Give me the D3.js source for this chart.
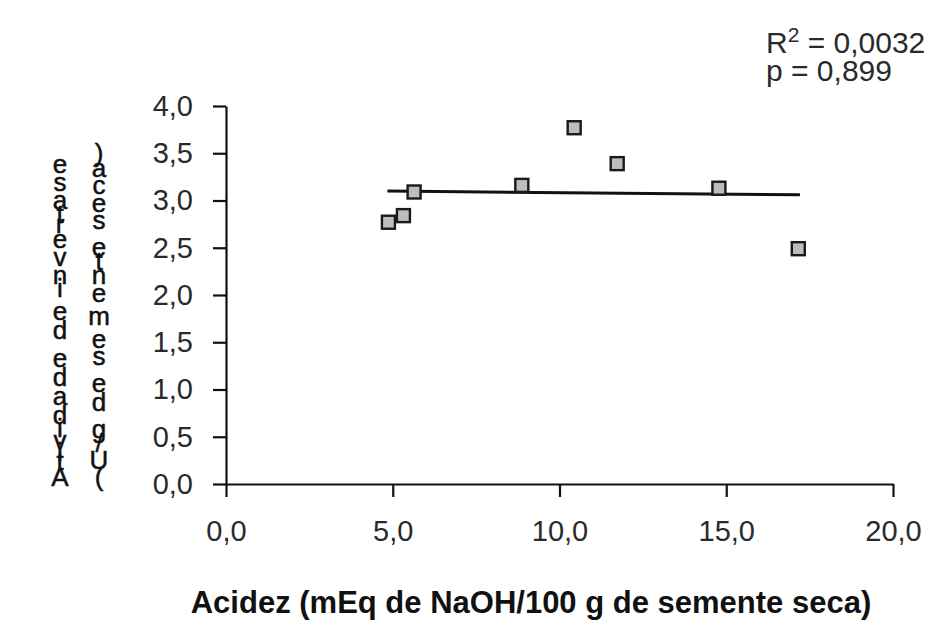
<!DOCTYPE html>
<html>
<head>
<meta charset="utf-8">
<script src="https://cdn.jsdelivr.net/npm/d3@7"></script>
<style>
  body { margin: 0; background: #fff; }
  text { font-family: "Liberation Sans", Arial, sans-serif; }
</style>
</head>
<body>
<svg id="chart" width="940" height="635"></svg>
<script>
// Acidity of the seeds vs. invertase activity
const acidity = [4.87, 5.32, 5.64, 8.87, 10.44, 11.73, 14.78, 17.16];
const invertaseActivity = [2.77, 2.84, 3.09, 3.16, 3.77, 3.39, 3.13, 2.49];

// Fitted linear trend (endpoints in data units)
const trendX = [4.84, 17.21];
const trendY = [3.10, 3.06];

const xTicks = [0, 5, 10, 15, 20];
const yTicks = [0, 0.5, 1, 1.5, 2, 2.5, 3, 3.5, 4];

const rSquaredText = ["R", "2", " = 0,0032"];
const pValueText = "p = 0,899";
const xTitle = "Acidez (mEq de NaOH/100 g de semente seca)";
const yTitleColumns = ["Atividade de invertase", "(U/g de semente seca)"];

const svg = d3.select("#chart");
const W = 940, H = 635;
svg.append("rect").attr("width", W).attr("height", H).attr("fill", "#fff");

const x = d3.scaleLinear().domain([0, 20]).range([226, 893]);
const y = d3.scaleLinear().domain([0, 4]).range([484, 106]);

const ptBR = d3.formatLocale({ decimal: ",", thousands: ".", grouping: [3], currency: ["", ""] });
const fmt = ptBR.format(".1f");

const tickFont = 29;
const textColor = "#2a2a2a";

// X axis
const gx = svg.append("g")
  .attr("transform", `translate(0,${y(0)})`)
  .call(d3.axisBottom(x).tickValues(xTicks).tickFormat(fmt).tickSize(13).tickPadding(23).tickSizeOuter(0));

// Y axis
const gy = svg.append("g")
  .attr("transform", `translate(${x(0)},0)`)
  .call(d3.axisLeft(y).tickValues(yTicks).tickFormat(fmt).tickSize(13).tickPadding(20).tickSizeOuter(0));

[gx, gy].forEach(g => {
  g.select(".domain").attr("stroke", "#111").attr("stroke-width", 2.2);
  g.selectAll(".tick line").attr("stroke", "#111").attr("stroke-width", 2.2);
  g.selectAll(".tick text")
    .attr("fill", textColor)
    .style("font-size", tickFont + "px")
    .style("font-family", '"Liberation Sans", Arial, sans-serif');
});

// Trend line
svg.append("line")
  .attr("x1", x(trendX[0])).attr("y1", y(trendY[0]))
  .attr("x2", x(trendX[1])).attr("y2", y(trendY[1]))
  .attr("stroke", "#111").attr("stroke-width", 3);

// Square markers
const size = 13;
svg.append("g").selectAll("rect")
  .data(acidity.map((a, i) => [a, invertaseActivity[i]]))
  .join("rect")
  .attr("x", d => x(d[0]) - size / 2)
  .attr("y", d => y(d[1]) - size / 2)
  .attr("width", size).attr("height", size)
  .attr("fill", "#bdbdbd")
  .attr("stroke", "#1a1a1a")
  .attr("stroke-width", 2.4);

// Statistics annotation
const stats = svg.append("g").attr("fill", textColor).style("font-size", "30px");
const r2 = stats.append("text").attr("x", 766).attr("y", 53);
r2.append("tspan").text(rSquaredText[0]);
r2.append("tspan").attr("dy", -11).style("font-size", "21px").text(rSquaredText[1]);
r2.append("tspan").attr("dy", 11).text(rSquaredText[2]);
stats.append("text").attr("x", 766).attr("y", 81).text(pValueText);

// X title
svg.append("text")
  .attr("x", 531).attr("y", 613)
  .attr("text-anchor", "middle")
  .attr("fill", "#111")
  .style("font-size", "31px").style("font-weight", "bold")
  .text(xTitle);

// Y title: characters stacked bottom-to-top, each glyph upright,
// advancing by its horizontal width.
const colFont = 26;
const ctx = document.createElement("canvas").getContext("2d");
ctx.font = `${colFont}px "Liberation Sans"`;
const columns = [
  { text: yTitleColumns[0], cx: 60, bottom: 477, top: 164 },
  { text: yTitleColumns[1], cx: 99, bottom: 477, top: 153 }
];
columns.forEach(col => {
  const chars = Array.from(col.text);
  const widths = chars.map(c => ctx.measureText(c).width);
  let acc = 0;
  const centers = widths.map(w => { const c = acc + w / 2; acc += w; return c; });
  const k = (col.bottom - col.top) / (centers[centers.length - 1] - centers[0]);
  svg.append("g").selectAll("text")
    .data(chars.map((c, i) => ({ c, pos: col.bottom - (centers[i] - centers[0]) * k })))
    .join("text")
    .attr("x", col.cx)
    .attr("y", d => d.pos)
    .attr("text-anchor", "middle")
    .attr("dominant-baseline", "central")
    .attr("fill", "#111")
    .attr("stroke", "#111")
    .attr("stroke-width", 0.5)
    .style("font-size", colFont + "px")
    .text(d => d.c);
});
</script>
</body>
</html>
